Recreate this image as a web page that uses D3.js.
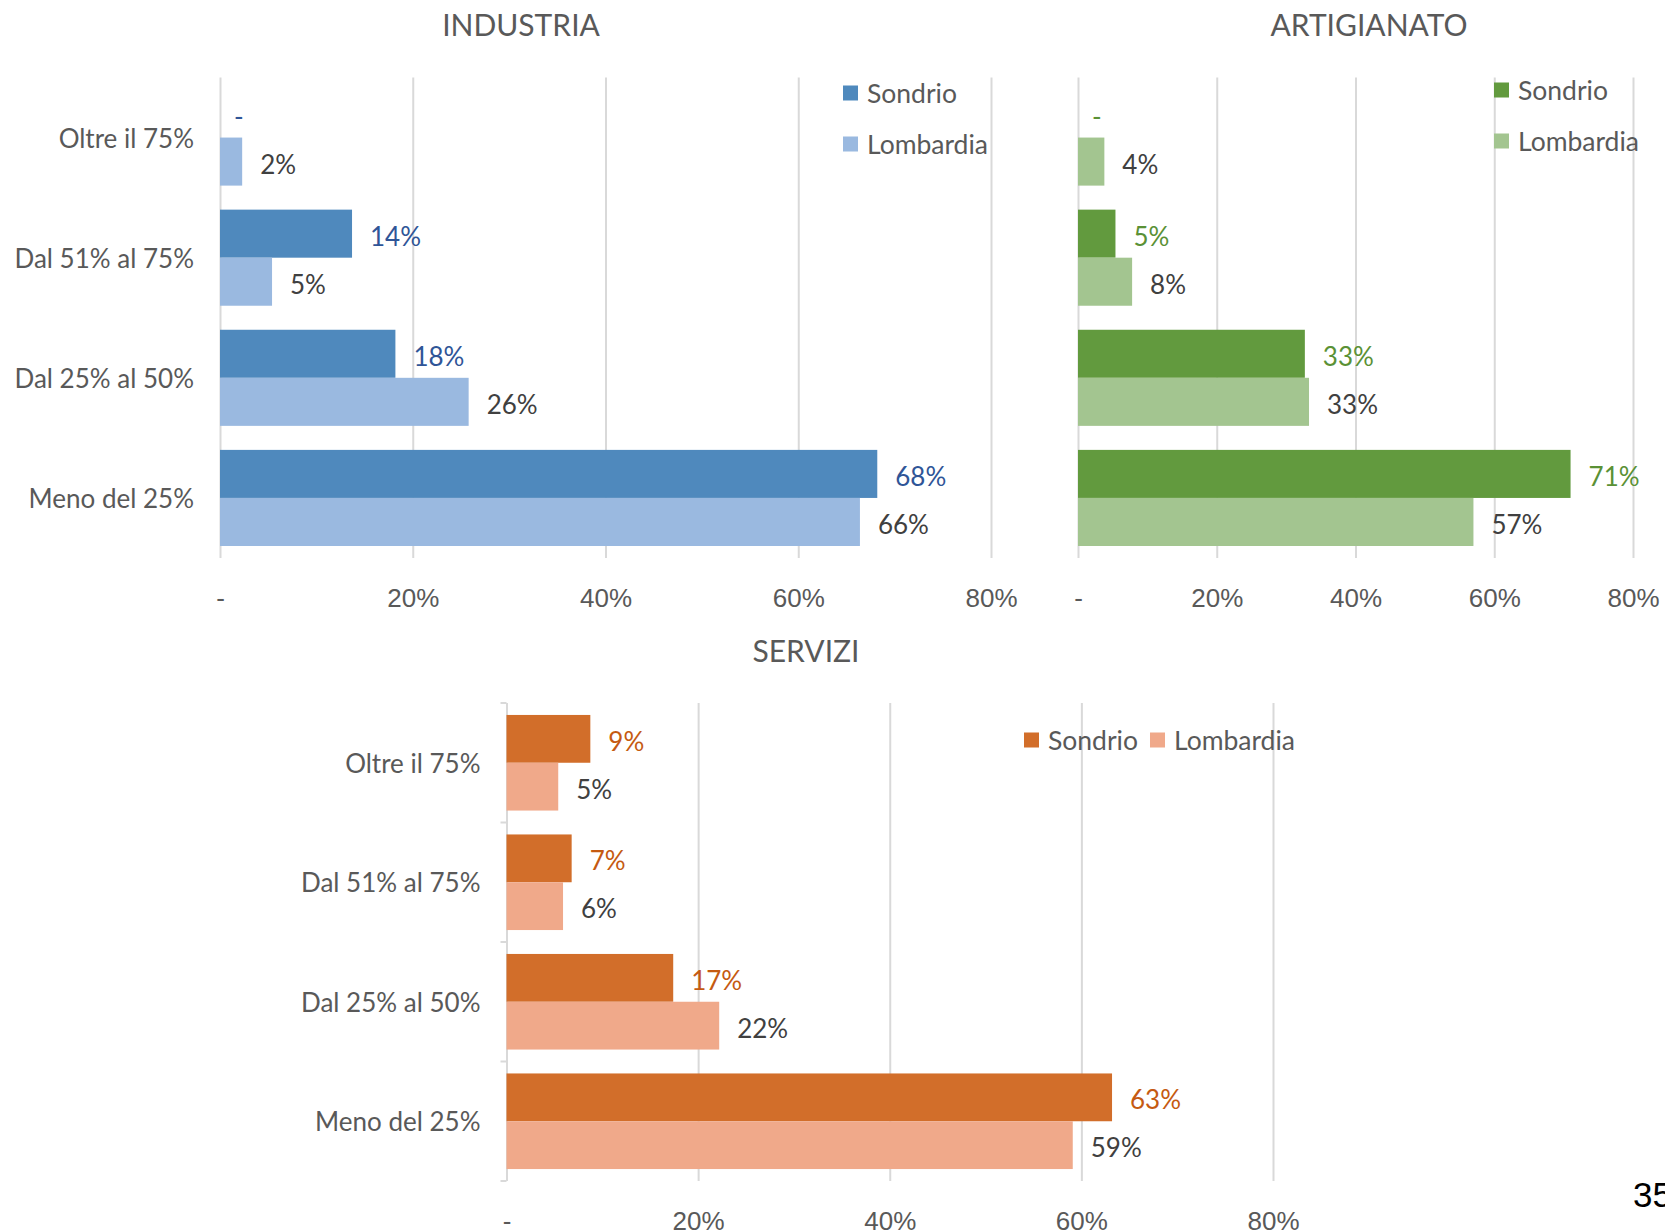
<!DOCTYPE html>
<html>
<head>
<meta charset="utf-8">
<script src="https://cdn.jsdelivr.net/npm/d3@7"></script>
<style>
  body { margin: 0; background: #fff; }
  svg { display: block; font-family: Lato, "Open Sans", sans-serif; }
</style>
</head>
<body>
<svg id="chart" width="1665" height="1232"></svg>
<script>
// categories and series
const categories = ["Oltre il 75%", "Dal 51% al 75%", "Dal 25% al 50%", "Meno del 25%"];
const series = ["Sondrio", "Lombardia"];
const xTicks = [0, 0.2, 0.4, 0.6, 0.8];

// values (share of firms)
const industriaSondrio = [0, 0.137, 0.182, 0.682];
const industriaLombardia = [0.023, 0.054, 0.258, 0.664];
const artigianatoSondrio = [0, 0.054, 0.327, 0.710];
const artigianatoLombardia = [0.038, 0.078, 0.333, 0.570];
const serviziSondrio = [0.0875, 0.068, 0.174, 0.632];
const serviziLombardia = [0.054, 0.059, 0.222, 0.591];

const panels = [
  {title: "INDUSTRIA", values: [industriaSondrio, industriaLombardia],
   colors: ["#4F89BD", "#9AB9E0"], labelColor: "#2F5597",
   x0: 220, x1: 991, y0: 77.5, y1: 558, titleX: 521, titleY: 24,
   legend: "vertical", legX: 843, legY: 93, ticks: false, cats: true},
  {title: "ARTIGIANATO", values: [artigianatoSondrio, artigianatoLombardia],
   colors: ["#629A3E", "#A3C590"], labelColor: "#5A9135",
   x0: 1078, x1: 1633, y0: 77.5, y1: 558, titleX: 1369, titleY: 24,
   legend: "vertical", legX: 1494, legY: 90, ticks: false, cats: false},
  {title: "SERVIZI", values: [serviziSondrio, serviziLombardia],
   colors: ["#D26E2A", "#F0A98A"], labelColor: "#C55A11",
   x0: 506.5, x1: 1273, y0: 703, y1: 1181, titleX: 806, titleY: 650,
   legend: "horizontal", legX: 1024, legY: 740, ticks: true, cats: true}
];

const fmt = d3.format(".0%");
const tickFmt = function(d){ return d === 0 ? "-" : fmt(d); };
const svg = d3.select("#chart");

panels.forEach(function(p){
  const g = svg.append("g");
  const x = d3.scaleLinear().domain([0, 0.8]).range([p.x0, p.x1]);
  const y = d3.scaleBand().domain(categories).range([p.y0, p.y1])
    .paddingInner(0.2).paddingOuter(0.1);
  const yIn = d3.scaleBand().domain(series).range([0, y.bandwidth()]);

  // title
  g.append("text")
    .attr("x", p.titleX).attr("y", p.titleY)
    .attr("text-anchor", "middle").attr("dominant-baseline", "central")
    .attr("fill", "#595959").attr("font-size", 30)
    .text(p.title);

  // gridlines
  const grid = g.append("g")
    .attr("transform", "translate(0," + p.y0 + ")")
    .call(d3.axisBottom(x).tickValues(xTicks).tickSize(p.y1 - p.y0).tickFormat(""));
  grid.select(".domain").remove();
  grid.selectAll("line").attr("stroke", "#D9D9D9").attr("stroke-width", 2);

  // tick labels
  const xa = g.append("g")
    .attr("transform", "translate(0," + (p.y1 + 40) + ")")
    .call(d3.axisBottom(x).tickValues(xTicks).tickSize(0).tickPadding(0).tickFormat(tickFmt));
  xa.select(".domain").remove();
  xa.selectAll("text")
    .attr("dy", null).attr("dominant-baseline", "central")
    .attr("fill", "#595959").attr("font-size", 26).attr("font-family", null);

  // category boundary ticks (servizi only)
  if (p.ticks) {
    const bounds = categories.map(function(c){ return y(c) - y.step() * 0.1; }).concat([p.y1]);
    g.selectAll("line.cat").data(bounds).enter().append("line")
      .attr("x1", x(0) - 6).attr("x2", x(0))
      .attr("y1", function(d){ return d; }).attr("y2", function(d){ return d; })
      .attr("stroke", "#D9D9D9").attr("stroke-width", 2);
  }

  // category labels
  if (p.cats) {
    g.selectAll("text.cat").data(categories).enter().append("text")
      .attr("x", x(0) - 26)
      .attr("y", function(d){ return y(d) + y.bandwidth() / 2; })
      .attr("text-anchor", "end").attr("dominant-baseline", "central")
      .attr("fill", "#595959").attr("font-size", 26)
      .text(function(d){ return d; });
  }

  // bars and labels
  series.forEach(function(s, si){
    const rows = categories.map(function(c, ci){ return {cat: c, v: p.values[si][ci]}; });
    g.selectAll("rect.s" + si).data(rows).enter().append("rect")
      .attr("x", x(0))
      .attr("y", function(d){ return y(d.cat) + yIn(s); })
      .attr("width", function(d){ return x(d.v) - x(0); })
      .attr("height", yIn.bandwidth())
      .attr("fill", p.colors[si]);
    g.selectAll("text.s" + si).data(rows).enter().append("text")
      .attr("x", function(d){ return x(d.v) + (d.v === 0 ? 14 : 18); })
      .attr("y", function(d){ return y(d.cat) + yIn(s) + yIn.bandwidth() / 2 + 2; })
      .attr("dominant-baseline", "central")
      .attr("fill", si === 0 ? p.labelColor : "#404040")
      .attr("font-size", 26)
      .text(function(d){ return d.v === 0 ? "-" : fmt(d.v); });
  });

  // legend
  const leg = g.append("g");
  series.forEach(function(s, si){
    let lx = p.legX, ly = p.legY;
    if (p.legend === "vertical") ly = p.legY + si * 51;
    else lx = p.legX + si * 126;
    leg.append("rect")
      .attr("x", lx).attr("y", ly - 7.5).attr("width", 15).attr("height", 15)
      .attr("fill", p.colors[si]);
    leg.append("text")
      .attr("x", lx + 24).attr("y", ly)
      .attr("dominant-baseline", "central")
      .attr("fill", "#595959").attr("font-size", 26.5)
      .text(s);
  });
});

// page number
svg.append("text")
  .attr("x", 1633).attr("y", 1207)
  .attr("font-family", "Liberation Sans, Arial, sans-serif")
  .attr("font-size", 35).attr("fill", "#000")
  .text("35");
</script>
</body>
</html>
